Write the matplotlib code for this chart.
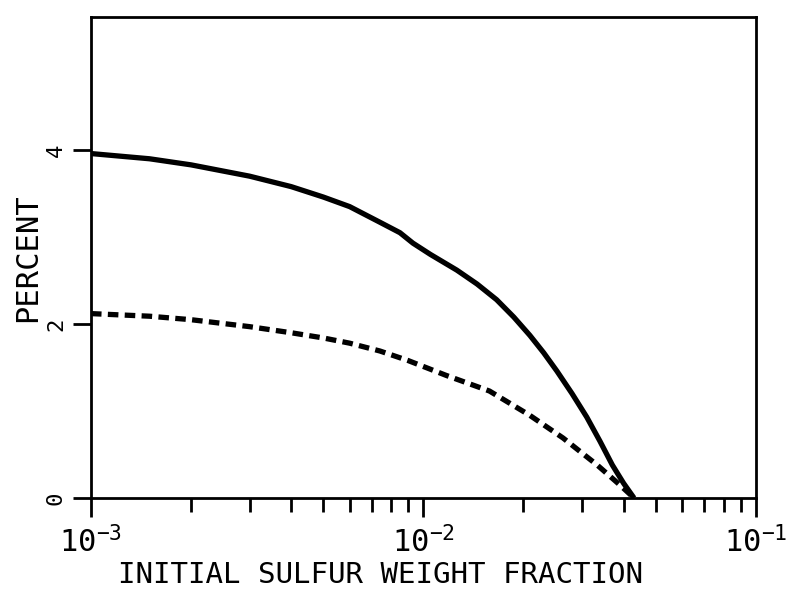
import matplotlib
matplotlib.use("Agg")
import matplotlib.pyplot as plt
from matplotlib.ticker import LogLocator, FixedLocator

# Sulfur fraction (x) and percent values (y) for the two curves
solid_x = [1.0e-3, 1.5e-3, 2e-3, 3e-3, 4e-3, 5e-3, 6e-3, 7.4e-3, 8.5e-3, 9.3e-3,
           1.05e-2, 1.26e-2, 1.45e-2, 1.66e-2, 1.87e-2, 2.09e-2, 2.3e-2, 2.52e-2,
           2.8e-2, 3.1e-2, 3.4e-2, 3.7e-2, 4.0e-2, 4.3e-2]
solid_y = [3.96, 3.90, 3.83, 3.70, 3.58, 3.46, 3.35, 3.17, 3.05, 2.93,
           2.80, 2.62, 2.46, 2.28, 2.08, 1.87, 1.67, 1.46,
           1.20, 0.93, 0.65, 0.38, 0.17, 0.0]

dashed_x = [1e-3, 1.5e-3, 2e-3, 3e-3, 4e-3, 5e-3, 6e-3, 7.4e-3, 9e-3, 1.17e-2,
            1.58e-2, 2.09e-2, 2.63e-2, 3.33e-2, 3.9e-2, 4.3e-2]
dashed_y = [2.12, 2.09, 2.05, 1.97, 1.90, 1.84, 1.78, 1.69, 1.58, 1.41,
            1.23, 0.95, 0.69, 0.38, 0.15, 0.0]

y_ticks = [0, 2, 4]
y_tick_labels = ["0", "2", "4"]
x_ticks = [1e-3, 1e-2, 1e-1]
x_tick_labels = [r"$10^{-3}$", r"$10^{-2}$", r"$10^{-1}$"]

plt.rcParams["mathtext.fontset"] = "custom"
plt.rcParams["mathtext.rm"] = "DejaVu Sans Mono"
plt.rcParams["mathtext.it"] = "DejaVu Sans Mono"
plt.rcParams["font.family"] = ["DejaVu Sans Mono"]

fig = plt.figure(figsize=(7.89, 5.94), dpi=100)
ax = fig.add_axes([0.1153, 0.1616, 0.958 - 0.1153, 0.9714 - 0.1616])

ax.plot(solid_x, solid_y, color="black", lw=3.8, solid_capstyle="butt",
        solid_joinstyle="round")
ax.plot(dashed_x, dashed_y, color="black", lw=3.8, dashes=(2.0, 1.2),
        dash_capstyle="butt")

ax.set_xscale("log")
ax.set_xlim(1e-3, 1e-1)
ax.set_ylim(0, 5.53)

ax.xaxis.set_major_locator(FixedLocator(x_ticks))
ax.set_xticklabels(x_tick_labels, fontsize=22)
ax.xaxis.set_minor_locator(LogLocator(base=10, subs=range(2, 10), numticks=20))
ax.xaxis.set_minor_formatter(plt.NullFormatter())

ax.set_yticks(y_ticks)
ax.set_yticklabels(y_tick_labels, fontsize=16, rotation=90, va="center")
ax.yaxis.set_minor_locator(plt.NullLocator())

ax.tick_params(axis="x", which="major", direction="out", length=14, width=2, pad=6)
ax.tick_params(axis="x", which="minor", direction="out", length=10, width=2)
ax.tick_params(axis="y", which="major", direction="out", length=13, width=2, pad=5)
ax.tick_params(top=False, right=False)

for s in ax.spines.values():
    s.set_linewidth(2)

ax.set_xlabel("INITIAL SULFUR WEIGHT FRACTION", fontsize=21)
ax.xaxis.label.set_horizontalalignment("left")
ax.xaxis.set_label_coords((118 - 91) / 665, -0.13)
ax.set_ylabel("PERCENT", fontsize=22)
ax.yaxis.set_label_coords(-0.074, 0.5)

fig.savefig("out.png", dpi=100)
